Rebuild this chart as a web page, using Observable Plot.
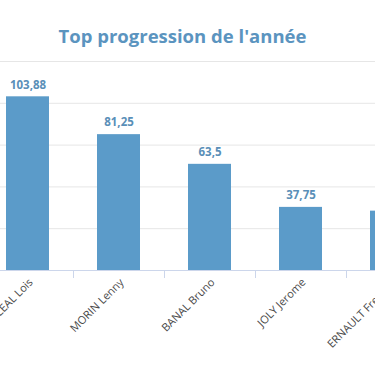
<!DOCTYPE html>
<html>
<head>
<meta charset="utf-8">
<script src="https://cdn.jsdelivr.net/npm/d3@7"></script>
<script src="https://cdn.jsdelivr.net/npm/@observablehq/plot@0.6"></script>
<style>
  html, body { margin: 0; padding: 0; background: #fff; overflow: hidden; width: 375px; height: 366px; }
  #wrap { position: relative; width: 375px; height: 366px; }
  #title { position: absolute; left: -10px; top: 23px; width: 385px; text-align: center;
    font-family: "Open Sans", sans-serif; font-weight: bold; font-size: 18.5px; color: #5b94bf; }
  svg { overflow: hidden; }
</style>
</head>
<body>
<div id="wrap"><div id="chart"></div><div id="title">Top progression de l'année</div></div>
<script>
const names = ["LEAL Lois", "MORIN Lenny", "BANAL Bruno", "JOLY Jerome", "ERNAULT Frederic"];
const values = [103.88, 81.25, 63.5, 37.75, 35.5];
const yTicks = [25, 50, 75, 100, 125];

const data = names.map((n, i) => ({name: n, value: values[i]}));
const fmt = v => String(v).replace(".", ",");

const chart = Plot.plot({
  width: 375,
  height: 366,
  marginTop: 61,
  marginBottom: 96,
  marginLeft: 0,
  marginRight: 0,
  style: {fontFamily: "'Open Sans', sans-serif", overflow: "hidden", background: "transparent"},
  x: {domain: names, range: [-17.5, 437.5], paddingInner: 0.525, paddingOuter: 0.2625, label: null},
  y: {domain: [0, 125], label: null, axis: null},
  marks: [
    Plot.gridY(yTicks, {stroke: "#e6e6e6", strokeOpacity: 1}),
    Plot.barY(data, {x: "name", y: "value", fill: "#5b9bc9"}),
    Plot.ruleY([0], {stroke: "#ccd6eb"}),
    Plot.axisX({tickSize: 8, text: null, dx: 45.5, stroke: "#ccd6eb"}),
    Plot.axisX({tickSize: 0, tickRotate: -45, tickPadding: 10, dx: 3, fontSize: 11, fill: "#4a4a4a"}),
    Plot.text(data, {x: "name", y: "value", text: d => fmt(d.value), dy: -12, fill: "#5a8fb8", fontWeight: "bold", fontSize: 11.5})
  ]
});
document.getElementById("chart").appendChild(chart);
</script>
</body>
</html>
